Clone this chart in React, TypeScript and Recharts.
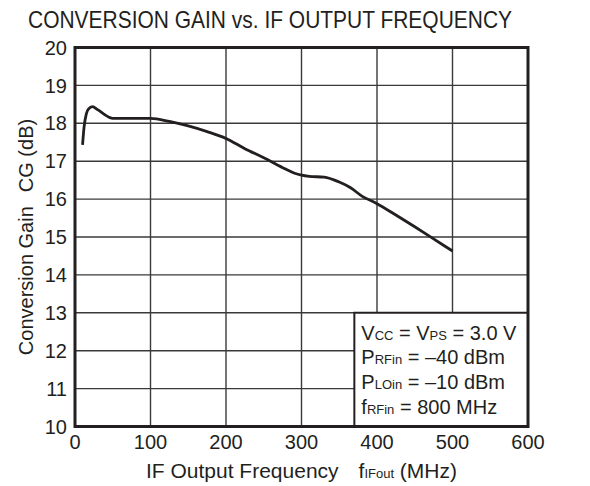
import { LineChart, Line, XAxis, YAxis, CartesianGrid, ReferenceArea, Label, Customized } from "recharts";

const freqMHz = [10, 12, 15, 18, 23, 30, 37, 45, 50, 75, 100, 125, 150, 175, 200, 225, 250, 275, 290, 300, 310, 330, 350, 365, 380, 400, 425, 450, 475, 500];
const gainDb = [17.43, 17.9, 18.25, 18.38, 18.44, 18.36, 18.26, 18.16, 18.13, 18.13, 18.13, 18.05, 17.93, 17.78, 17.6, 17.33, 17.09, 16.83, 16.69, 16.63, 16.6, 16.58, 16.45, 16.3, 16.08, 15.88, 15.58, 15.27, 14.95, 14.63];
const xTicks = [0, 100, 200, 300, 400, 500, 600];
const yTicks = [10, 11, 12, 13, 14, 15, 16, 17, 18, 19, 20];

const data = freqMHz.map((f, i) => ({ f, cg: gainDb[i] }));

const FONT = "'Liberation Sans', Arial, Helvetica, sans-serif";
const INK = "#231f20";

const Title = () => (
  <text x={270} y={28} textAnchor="middle" fontFamily={FONT} fontSize={24} fill={INK}
    textLength={484} lengthAdjust="spacingAndGlyphs">
    CONVERSION GAIN vs. IF OUTPUT FREQUENCY
  </text>
);

const XLabel = (props: any) => {
  const { x, y, width } = props.viewBox;
  return (
    <text x={x + width / 2} y={y + 51} textAnchor="middle" fontFamily={FONT} fontSize={21} fill={INK}>
      IF Output Frequency
      <tspan dx={20}>f</tspan>
      <tspan fontSize={13}>IFout</tspan>
      <tspan> (MHz)</tspan>
    </text>
  );
};

const YLabel = (props: any) => {
  const { y, height } = props.viewBox;
  const cy = y + height / 2;
  return (
    <text transform={`translate(33,${cy}) rotate(-90)`} textAnchor="middle" fontFamily={FONT} fontSize={20} fill={INK}>
      Conversion Gain
      <tspan dx={14}>CG (dB)</tspan>
    </text>
  );
};

const Conditions = (props: any) => {
  const { x, y } = props.viewBox;
  const lx = x + 7;
  const sub = 13;
  return (
    <g fontFamily={FONT} fontSize={20} fill={INK}>
      <text x={lx} y={y + 27}>
        V<tspan fontSize={sub}>CC</tspan> = V<tspan fontSize={sub}>PS</tspan> = 3.0 V
      </text>
      <text x={lx} y={y + 51}>
        P<tspan fontSize={sub}>RFin</tspan> = –40 dBm
      </text>
      <text x={lx} y={y + 76}>
        P<tspan fontSize={sub}>LOin</tspan> = –10 dBm
      </text>
      <text x={lx} y={y + 101}>
        f<tspan fontSize={sub}>RFin</tspan> = 800 MHz
      </text>
    </g>
  );
};

export default function App() {
  return (
    <div style={{ position: "absolute", left: 0, top: 0, width: 590, height: 486, background: "#fff" }}>
      <LineChart width={590} height={486} data={data} margin={{ top: 47.5, right: 62, bottom: 29.5, left: 0 }}>
        <CartesianGrid stroke="#3a3a3a" strokeWidth={1.4} horizontalValues={yTicks} verticalValues={xTicks} />
        <XAxis dataKey="f" type="number" domain={[0, 600]} ticks={xTicks} height={30}
          axisLine={false} tickLine={false} tickSize={6} tickMargin={2}
          tick={{ fontFamily: FONT, fontSize: 20, fill: INK }}>
          <Label content={<XLabel />} />
        </XAxis>
        <YAxis type="number" domain={[10, 20]} ticks={yTicks} width={75}
          axisLine={false} tickLine={false} tickSize={6} tickMargin={2}
          tick={{ fontFamily: FONT, fontSize: 20, fill: INK }}>
          <Label content={<YLabel />} />
        </YAxis>
        <ReferenceArea x1={370} x2={600} y1={10} y2={13} fill="#fff" fillOpacity={1} stroke={INK} strokeWidth={2}
          label={<Conditions />} />
        <Line type="monotone" dataKey="cg" stroke={INK} strokeWidth={2.8} dot={false} isAnimationActive={false} />
        <ReferenceArea x1={0} x2={600} y1={10} y2={20} fill="none" stroke={INK} strokeWidth={3} />
        <Customized component={Title} />
      </LineChart>
    </div>
  );
}
